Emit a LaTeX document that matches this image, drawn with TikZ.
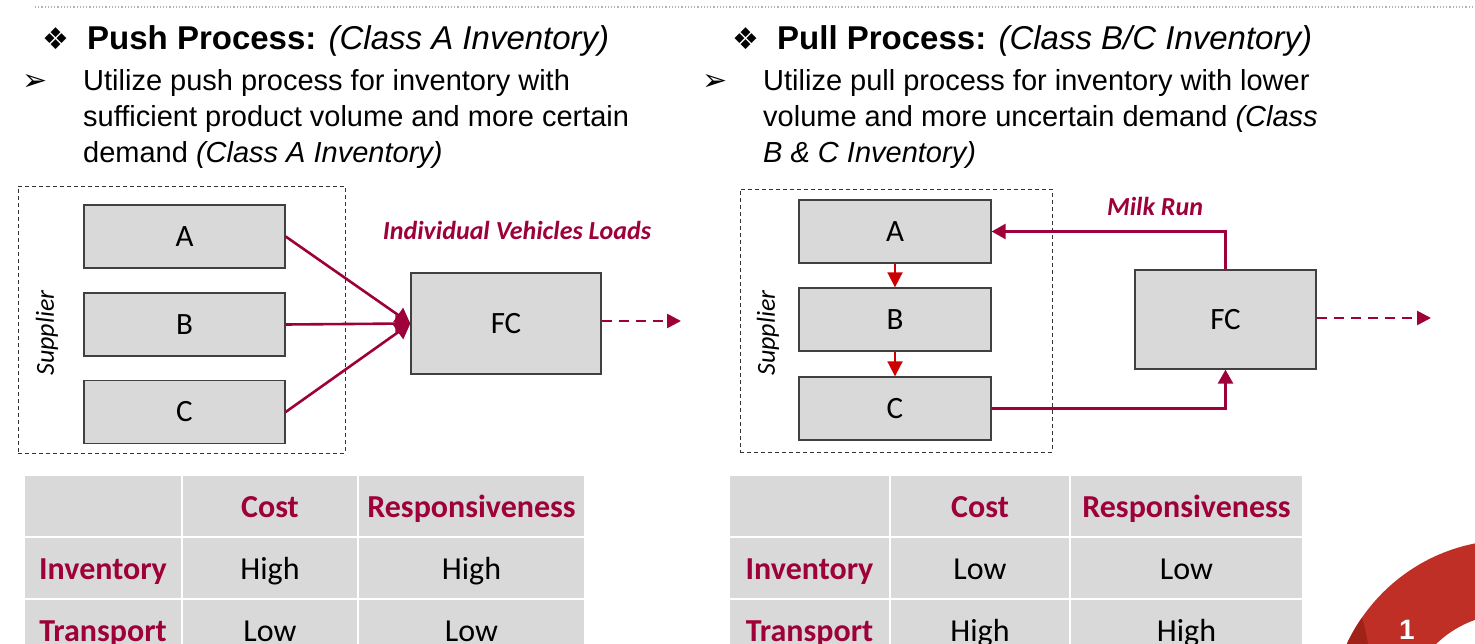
\documentclass[tikz,border=0pt]{standalone}
\usepackage{fontspec}
\setmainfont{Liberation Sans}
\newfontfamily\calfont{Carlito}
\newfontfamily\dvfont{DejaVu Sans}
\usetikzlibrary{arrows.meta}
\definecolor{burg}{HTML}{9E0039}
\definecolor{brightred}{HTML}{CC0000}
\definecolor{boxgray}{HTML}{D9D9D9}
\definecolor{boxline}{HTML}{404040}
\definecolor{ringred}{HTML}{BF2F25}
\definecolor{ringdark}{HTML}{A02219}
\tikzset{
  procbox/.style={draw=boxline, line width=1.3pt, fill=boxgray, inner sep=0pt,
    font=\calfont\fontsize{31}{34}\selectfont},
  supbox/.style={draw=black!80, dash pattern=on 4pt off 3pt, line width=0.9pt, inner sep=0pt},
  flow/.style={draw=burg, line width=2.6pt, -{Triangle[length=15pt,width=17pt]}},
  redflow/.style={draw=brightred, line width=1.8pt, -{Triangle[length=15pt,width=15pt]}},
  dashflow/.style={draw=burg, line width=2.6pt, dash pattern=on 10pt off 7pt, -{Triangle[length=14pt,width=14pt]}},
  head/.style={anchor=base west, inner sep=0pt, font=\fontsize{33}{38}\selectfont},
  body/.style={anchor=base west, inner sep=0pt, font=\fontsize{29}{36}\selectfont},
  bul/.style={anchor=base west, inner sep=0pt},
  lbl/.style={inner sep=0pt, text=burg, font=\calfont\fontsize{26}{30}\selectfont\bfseries\itshape},
  suplbl/.style={inner sep=0pt, rotate=90, font=\calfont\fontsize{26}{30}\selectfont\itshape},
  cell/.style={fill=boxgray, inner sep=0pt, text height=26pt, text depth=4pt,
    font=\calfont\fontsize{32}{36}\selectfont},
  hcell/.style={cell, text=burg, font=\calfont\fontsize{32}{36}\selectfont\bfseries},
}
\begin{document}
\begin{tikzpicture}[x=1pt,y=-1pt]
\useasboundingbox (0,0) rectangle (1475,644);
% top dotted rule
\draw[black!30, dotted, line width=1.2pt] (35,7) -- (1475,7);

% ===== headers =====
\node[bul, font=\dvfont\fontsize{30}{34}\selectfont] (bl1) at (42,50) {❖};
\node[head] (hl) at (87,50) {\bfseries Push Process: \mdseries\itshape (Class A Inventory)};
\node[bul, font=\dvfont\fontsize{30}{34}\selectfont] (bl2) at (22,91) {➢};
\node[body] (tl1) at (83,91) {Utilize push process for inventory with};
\node[body] (tl2) at (83,127) {sufficient product volume and more certain};
\node[body] (tl3) at (83,163) {demand \textit{(Class A Inventory)}};

\node[bul, font=\dvfont\fontsize{30}{34}\selectfont] (br1) at (732,50) {❖};
\node[head] (hr) at (777,50) {\bfseries Pull Process: \mdseries\itshape (Class B/C Inventory)};
\node[bul, font=\dvfont\fontsize{30}{34}\selectfont] (br2) at (702,91) {➢};
\node[body] (tr1) at (763,91) {Utilize pull process for inventory with lower};
\node[body] (tr2) at (763,127) {volume and more uncertain demand \textit{(Class}};
\node[body] (tr3) at (763,163) {\textit{B \& C Inventory)}};

% ===== left diagram =====
\node[supbox, minimum width=327pt, minimum height=267pt] (LS) at (181.5,319.5) {};
\node[suplbl] (Lsup) at (47,333) {Supplier};
\node[procbox, minimum width=201pt, minimum height=63pt] (LA) at (184.5,236.5) {A};
\node[procbox, minimum width=201pt, minimum height=63pt] (LB) at (184.5,324.5) {B};
\node[procbox, minimum width=201pt, minimum height=63pt] (LC) at (184.5,412) {C};
\node[procbox, minimum width=190pt, minimum height=101pt] (LFC) at (506,323.5) {FC};
\node[lbl] (Lt) at (517,230) {Individual Vehicles Loads};
\coordinate (Lend) at (681,321);
\draw[flow] (LA.east) -- (LFC.west);
\draw[flow] (LB.east) -- (LFC.west);
\draw[flow] (LC.east) -- (LFC.west);
\draw[dashflow] (LFC.east |- Lend) -- (Lend);

% ===== right diagram =====
\node[supbox, minimum width=312pt, minimum height=263pt] (RS) at (896,320.5) {};
\node[suplbl] (Rsup) at (768,333) {Supplier};
\node[procbox, minimum width=192pt, minimum height=63pt] (RA) at (895,231.5) {A};
\node[procbox, minimum width=192pt, minimum height=63pt] (RB) at (895,319.5) {B};
\node[procbox, minimum width=192pt, minimum height=63pt] (RC) at (895,408.5) {C};
\node[procbox, minimum width=181pt, minimum height=99pt] (RFC) at (1225.5,319.5) {FC};
\node[lbl] (Rt) at (1155,206) {Milk Run};
\coordinate (Rend) at (1431,318);
\draw[redflow] (RA.south) -- (RB.north);
\draw[redflow] (RB.south) -- (RC.north);
\draw[flow, -{Triangle[length=14pt,width=15pt]}] (RFC.north) |- (RA.east);
\draw[flow, -{Triangle[length=14pt,width=15pt]}] (RC.east) -| (RFC.south);
\draw[dashflow] (RFC.east |- Rend) -- (Rend);

% ===== left table =====
\node[cell, minimum width=156pt, minimum height=60pt] (L11) at (103,506) {};
\node[hcell, minimum width=174pt, minimum height=60pt] (L12) at (270,506) {Cost};
\node[hcell, minimum width=225pt, minimum height=60pt] (L13) at (471.5,506) {Responsiveness};
\node[hcell, minimum width=156pt, minimum height=60pt] (L21) at (103,568) {Inventory};
\node[cell, minimum width=174pt, minimum height=60pt] (L22) at (270,568) {High};
\node[cell, minimum width=225pt, minimum height=60pt] (L23) at (471.5,568) {High};
\node[hcell, minimum width=156pt, minimum height=60pt] (L31) at (103,630) {Transport};
\node[cell, minimum width=174pt, minimum height=60pt] (L32) at (270,630) {Low};
\node[cell, minimum width=225pt, minimum height=60pt] (L33) at (471.5,630) {Low};

% ===== right table =====
\node[cell, minimum width=159pt, minimum height=60pt] (R11) at (809.5,506) {};
\node[hcell, minimum width=178pt, minimum height=60pt] (R12) at (980,506) {Cost};
\node[hcell, minimum width=231pt, minimum height=60pt] (R13) at (1186.5,506) {Responsiveness};
\node[hcell, minimum width=159pt, minimum height=60pt] (R21) at (809.5,568) {Inventory};
\node[cell, minimum width=178pt, minimum height=60pt] (R22) at (980,568) {Low};
\node[cell, minimum width=231pt, minimum height=60pt] (R23) at (1186.5,568) {Low};
\node[hcell, minimum width=159pt, minimum height=60pt] (R31) at (809.5,630) {Transport};
\node[cell, minimum width=178pt, minimum height=60pt] (R32) at (980,630) {High};
\node[cell, minimum width=231pt, minimum height=60pt] (R33) at (1186.5,630) {High};

% ===== ring at bottom right =====
\fill[ringred, even odd rule] (1510,720) circle (180pt) (1510,720) circle (106pt);
\begin{scope}
\clip (1510,720) circle (180pt);
\fill[ringdark] (1340,606) .. controls (1362,612) .. (1368,644) -- (1340,644) -- cycle;
\end{scope}
\node[inner sep=0pt, text=white, font=\fontsize{28}{32}\selectfont\bfseries] (one) at (1407,630) {1};
\end{tikzpicture}
\end{document}
